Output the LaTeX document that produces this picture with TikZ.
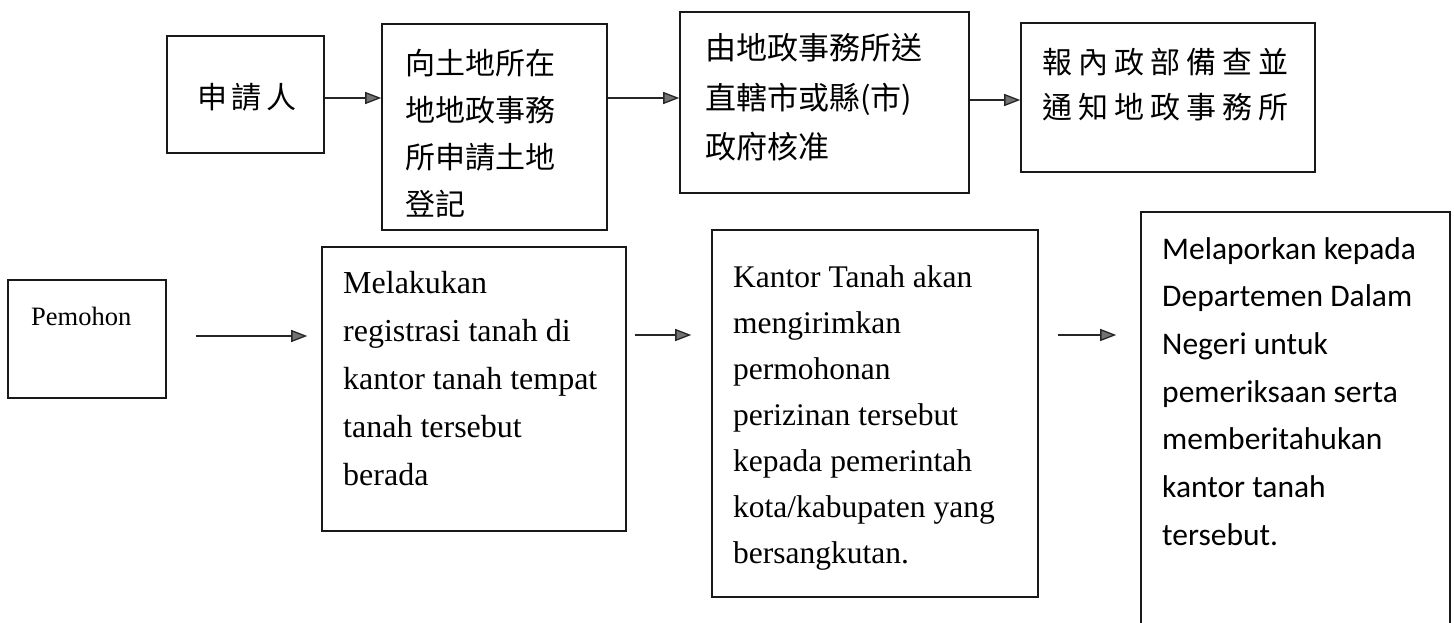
\documentclass[tikz,border=0pt]{standalone}
\usepackage{fontspec}
\setmainfont{Liberation Serif}
\newfontfamily\cjkfont{Noto Sans CJK TC}
\newfontfamily\califont{Carlito}
\usetikzlibrary{arrows.meta}
\tikzset{
  box/.style={draw=black!90, line width=1.6pt, rectangle, inner sep=0pt},
  arr/.style={draw=black!85, line width=1.3pt, -{Triangle[length=16pt,width=12pt,fill=black!55]}},
  txt/.style={inner sep=0pt, anchor=north west, align=left},
}
\begin{document}
\begin{tikzpicture}[x=1pt,y=-1pt]
\useasboundingbox (0,0) rectangle (1454,623);
\clip (0,0) rectangle (1454,623);
\fill[white] (0,0) rectangle (1454,623);

% top row boxes
\node[box, minimum width=157pt, minimum height=117pt] (A) at (245.5,94.5) {};
\node[box, minimum width=225pt, minimum height=206pt] (B) at (494.5,127) {};
\node[box, minimum width=289pt, minimum height=181pt] (C) at (824.5,102.5) {};
\node[box, minimum width=294pt, minimum height=149pt] (D) at (1168,97.5) {};

% bottom row boxes
\node[box, minimum width=158pt, minimum height=118pt] (P) at (87,339) {};
\node[box, minimum width=304pt, minimum height=284pt] (M) at (474,389) {};
\node[box, minimum width=326pt, minimum height=367pt] (K) at (875,413.5) {};
\node[box, minimum width=309pt, minimum height=428pt] (L) at (1295.5,426) {};

% texts top
\node[inner sep=0pt, font=\cjkfont\fontsize{30}{36}\selectfont] (tA) at (247,97) {申\kern5pt 請\kern5pt 人};
\node[txt, font=\cjkfont\fontsize{30}{47}\selectfont] (tB) at (405,41.5)
  {\strut 向土地所在\\ \strut 地地政事務\\ \strut 所申請土地\\ \strut 登記};
\node[txt, font=\cjkfont\fontsize{31}{50}\selectfont] (tC) at (705,23.8)
  {\strut 由地政事務所送\\ \strut 直轄市或縣(市)\\ \strut 政府核准};
\node[txt, font=\cjkfont\fontsize{30}{45}\selectfont] (tD) at (1042,41.9)
  {\strut 報\kern6pt 內\kern6pt 政\kern6pt 部\kern6pt 備\kern6pt 查\kern6pt 並\\
   \strut 通\kern6pt 知\kern6pt 地\kern6pt 政\kern6pt 事\kern6pt 務\kern6pt 所};

% texts bottom
\node[inner sep=0pt, anchor=base west, font=\fontsize{26.5}{32}\selectfont] (tP) at (31,325) {Pemohon};
\node[txt, font=\fontsize{32}{48}\selectfont] (tM) at (343,259.4)
  {\strut Melakukan\\ \strut registrasi tanah di\\ \strut kantor tanah tempat\\ \strut tanah tersebut\\ \strut berada};
\node[txt, font=\fontsize{31.5}{46}\selectfont] (tK) at (733,254.8)
  {\strut Kantor Tanah akan\\ \strut mengirimkan\\ \strut permohonan\\ \strut perizinan tersebut\\ \strut kepada pemerintah\\ \strut kota/kabupaten yang\\ \strut bersangkutan.};
\node[txt, font=\califont\fontsize{31.5}{47.7}\selectfont] (tL) at (1162,225.6)
  {\strut Melaporkan kepada\\ \strut Departemen Dalam\\ \strut Negeri untuk\\ \strut pemeriksaan serta\\ \strut memberitahukan\\ \strut kantor tanah\\ \strut tersebut.};

% arrow rows
\coordinate (r1) at (0,98);
\coordinate (r2) at (0,100);
\coordinate (r3) at (0,336);
\coordinate (r4) at (0,335);

\draw[arr] (A.east |- r1) -- (B.west |- r1);
\draw[arr] (B.east |- r1) -- (C.west |- r1);
\draw[arr] (C.east |- r2) -- (D.west |- r2);

\draw[arr, shorten <=29pt, shorten >=14pt] (P.east |- r3) -- (M.west |- r3);
\draw[arr, shorten <=8pt, shorten >=20pt] (M.east |- r4) -- (K.west |- r4);
\draw[arr, shorten <=19pt, shorten >=24pt] (K.east |- r4) -- (L.west |- r4);
\end{tikzpicture}
\end{document}
